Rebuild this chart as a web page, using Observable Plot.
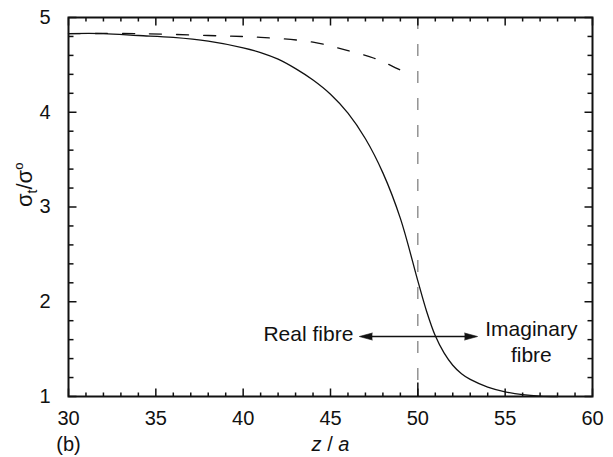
<!DOCTYPE html>
<html>
<head>
<meta charset="utf-8">
<script src="https://cdn.jsdelivr.net/npm/d3@7"></script>
<script src="https://cdn.jsdelivr.net/npm/@observablehq/plot@0.6"></script>
<style>
  html, body { margin: 0; padding: 0; background: white; }
</style>
</head>
<body>
<div id="chart"></div>
<script>
// ---- data ----
const solidZ = [30, 32, 34, 36, 38, 40, 41, 42, 43, 44, 45, 46, 47, 48, 49, 50, 50.5, 51, 51.5, 52, 52.5, 53, 54, 55, 56, 57, 58];
const solidV = [4.83, 4.83, 4.81, 4.79, 4.75, 4.68, 4.63, 4.56, 4.46, 4.34, 4.19, 3.99, 3.72, 3.36, 2.88, 2.22, 1.90, 1.64, 1.46, 1.33, 1.24, 1.18, 1.10, 1.05, 1.02, 1.005, 1.0];
const dashedZ = [30, 34, 38, 41, 44, 46, 47.5, 48.5, 49.7];
const dashedV = [4.83, 4.83, 4.81, 4.79, 4.74, 4.65, 4.57, 4.49, 4.38];
const xTicks = [30, 35, 40, 45, 50, 55, 60];
const yTicks = [1, 2, 3, 4, 5];
const xMinor = d3.range(31, 60, 1).filter(v => v % 5 !== 0);
const yMinor = d3.range(1.2, 5, 0.2).filter(v => Math.abs(v - Math.round(v)) > 1e-6);
const interfaceZ = [50];
const arrowV = 1.633;
const arrowEnds = [46.65, 53.42];
const labelReal = "Real fibre";
const labelImag = "Imaginary\nfibre";
const imagZ = 56.5;
const xLabel = "z / a";
const yLabel = "σt/σo";
const panelLabel = "(b)";

const solid = solidZ.map((z, i) => ({z, v: solidV[i]}));
const dashed = dashedZ.map((z, i) => ({z, v: dashedV[i]}));

const W = 613, H = 457;
const mL = 68, mR = 21, mT = 17, mB = 61;
const ink = "#111";
const font = "'Liberation Sans', Arial, Helvetica, sans-serif";
const xDomain = [30, 60], yDomain = [1, 5];

// tick lengths in pixels, converted to data units of the perpendicular scale
const perPxY = (yDomain[1] - yDomain[0]) / (H - mT - mB);
const perPxX = (xDomain[1] - xDomain[0]) / (W - mL - mR);

// tick segments as two-point polylines (grouped by id)
const segs = [];
let sid = 0;
const addX = (vals, px) => vals.forEach(v => {
  segs.push({id: sid, x: v, y: yDomain[0]}, {id: sid++, x: v, y: yDomain[0] + px * perPxY});
  segs.push({id: sid, x: v, y: yDomain[1]}, {id: sid++, x: v, y: yDomain[1] - px * perPxY});
});
const addY = (vals, px) => vals.forEach(v => {
  segs.push({id: sid, x: xDomain[0], y: v}, {id: sid++, x: xDomain[0] + px * perPxX, y: v});
  segs.push({id: sid, x: xDomain[1], y: v}, {id: sid++, x: xDomain[1] - px * perPxX, y: v});
});
addX(xMinor, 4);
addX(xTicks, 8);
addY(yMinor, 5);
addY(yTicks, 8);
interfaceZ.forEach(v => segs.push({id: sid, x: v, y: yDomain[0]}, {id: sid++, x: v, y: yDomain[0] + 14 * perPxY}));

const chart = Plot.plot({
  width: W, height: H,
  marginLeft: mL, marginRight: mR, marginTop: mT, marginBottom: mB,
  style: {fontFamily: font, fontSize: "20px", background: "white", color: ink},
  x: {domain: xDomain},
  y: {domain: yDomain},
  marks: [
    Plot.ruleX(interfaceZ, {x: d => d, stroke: "#777", strokeWidth: 1.2, strokeDasharray: "12,15"}),
    Plot.line(segs, {x: "x", y: "y", z: "id", stroke: ink, strokeWidth: 1.5, strokeLinecap: "butt"}),
    Plot.line(dashed, {x: "z", y: "v", stroke: ink, strokeWidth: 1.3, strokeDasharray: "12,15", curve: "catmull-rom"}),
    Plot.line(solid, {x: "z", y: "v", stroke: ink, strokeWidth: 1.3, curve: "catmull-rom"}),
    Plot.frame({stroke: ink, strokeWidth: 2}),
    Plot.axisX(xTicks, {anchor: "bottom", stroke: "none", tickSize: 0, tickPadding: 14, fontSize: 20, tickFormat: d => String(d), label: null}),
    Plot.axisY(yTicks, {anchor: "left", stroke: "none", tickSize: 0, tickPadding: 18, fontSize: 20, tickFormat: d => String(d), label: null}),
    Plot.ruleY([arrowV], {x1: () => arrowEnds[0] + 0.3, x2: () => arrowEnds[1] - 0.3, stroke: ink, strokeWidth: 1.3}),
    Plot.vector(arrowEnds, {x: d => d, y: () => arrowV, rotate: d => (d > 50 ? 90 : -90), length: 13, r: 3.5, shape: "spike", anchor: "end", fill: ink, stroke: ink, strokeWidth: 0.6}),
    Plot.text([labelReal], {x: () => arrowEnds[0], y: () => arrowV, text: d => d, textAnchor: "end", dx: -6, dy: -2, fontSize: 21}),
    Plot.text([labelImag], {x: () => imagZ, y: () => arrowV, text: d => d, textAnchor: "middle", lineHeight: 1.25, dy: 4, fontSize: 21}),
    Plot.text([panelLabel], {frameAnchor: "bottom-left", text: d => d, dy: 54, textAnchor: "middle", fontSize: 20}),
    Plot.text([xLabel], {frameAnchor: "bottom", text: d => d, dy: 54, fontSize: 20, fontStyle: "italic"}),
    Plot.text([yLabel], {frameAnchor: "left", text: d => d, dx: -44, rotate: -90, fontSize: 22})
  ]
});

document.getElementById("chart").appendChild(chart);

// rich formatting of the axis labels
d3.select(chart).selectAll("text").each(function() {
  const el = d3.select(this);
  const t = this.textContent;
  if (t === yLabel) {
    el.text("");
    el.append("tspan").text("σ");
    el.append("tspan").attr("font-size", 14).attr("dy", 5).text("t");
    el.append("tspan").attr("dy", -5).text("/σ");
    el.append("tspan").attr("font-size", 13).attr("dy", -9).text("o");
  } else if (t === xLabel) {
    el.text("");
    el.append("tspan").text("z");
    el.append("tspan").attr("font-style", "normal").text(" / ");
    el.append("tspan").text("a");
  }
});
</script>
</body>
</html>
